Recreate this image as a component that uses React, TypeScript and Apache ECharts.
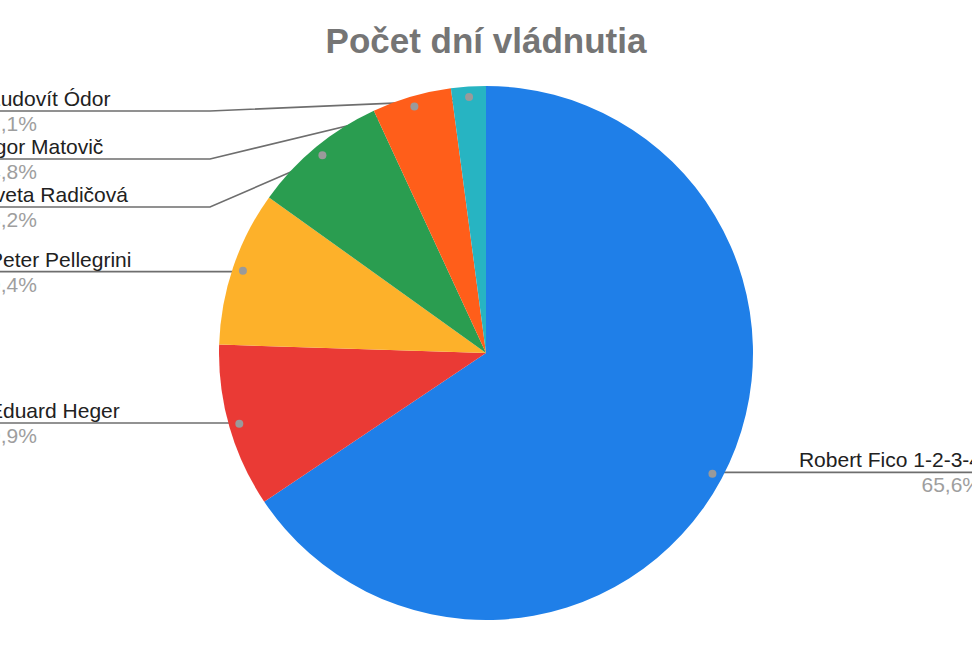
import React, { useEffect, useRef } from 'react';
import * as echarts from 'echarts';

const TITLE = 'Počet dní vládnutia';
const names = [
  'Robert Fico 1-2-3-4',
  'Eduard Heger',
  'Peter Pellegrini',
  'Iveta Radičová',
  'Igor Matovič',
  'Ľudovít Ódor',
];
const shares = [65.6, 9.9, 9.4, 8.2, 4.8, 2.1];
const colors = ['#1f7fe8', '#ea3a35', '#fdb12a', '#2a9d50', '#ff5e1a', '#27b4c2'];

const FONT = 'Arial, "Liberation Sans", sans-serif';
const OFFSET_X = -66;
const W = 1102;
const H = 648;
const CX = 552;
const CY = 353;
const R = 267;
const VIEW_TOP = 87;
const DOT_RATIO = 0.95;
const SNAP = 14;

export default function App() {
  const ref = useRef<HTMLDivElement>(null);
  useEffect(() => {
    const chart = echarts.init(ref.current as HTMLDivElement, null, { renderer: 'svg' });
    const data = names.map((name, i) => ({ name, value: shares[i] }));
    const common = {
      type: 'pie',
      left: 0,
      top: VIEW_TOP,
      right: 0,
      bottom: 0,
      center: [CX, CY - VIEW_TOP],
      startAngle: 90,
      clockwise: true,
      silent: true,
      emphasis: { disabled: true },
      data,
    };
    chart.setOption({
      animation: false,
      color: colors,
      textStyle: { fontFamily: FONT },
      title: {
        text: TITLE,
        left: CX,
        textAlign: 'center',
        top: 23,
        padding: 0,
        textStyle: { fontFamily: FONT, fontSize: 35, fontWeight: 'bold', color: '#757575' },
      },
      series: [
        {
          ...common,
          radius: R,
          avoidLabelOverlap: true,
          label: {
            show: true,
            alignTo: 'edge',
            edgeDistance: 55,
            overflow: 'none',
            padding: [1, 0, 1, 0],
            formatter: (p: any) =>
              `{n|${p.name}}\n{p|${Number(p.percent).toFixed(1).replace('.', ',')}%}`,
            rich: {
              n: { fontFamily: FONT, fontSize: 21, color: '#212121', lineHeight: 25 },
              p: { fontFamily: FONT, fontSize: 21, color: '#9e9e9e', lineHeight: 25 },
            },
          },
          labelLine: {
            show: true,
            length: -14,
            length2: 0,
            lineStyle: { color: '#6e6e6e', width: 1.6 },
          },
          labelLayout: (p: any) => {
            const pts = p.labelLinePoints;
            if (!pts || pts.length < 3) return {};
            const x0 = pts[0][0];
            const y0 = pts[0][1];
            const dot = [CX + (x0 - CX) * DOT_RATIO, CY + (y0 - CY) * DOT_RATIO];
            let ly = pts[2][1];
            const out: any = {};
            const pinnedTop = Math.abs(p.labelRect.y - VIEW_TOP) < 3;
            if (!pinnedTop && Math.abs(ly - dot[1]) < SNAP) {
              ly = dot[1];
              out.y = ly;
            }
            const isLeft = x0 < CX;
            const elbowX = isLeft ? Math.min(dot[0], CX - R - 9) : Math.max(dot[0], CX + R + 9);
            const endX = isLeft ? p.labelRect.x : p.labelRect.x + p.labelRect.width;
            out.labelLinePoints = [dot, [elbowX, ly], [endX, ly]];
            return out;
          },
        },
        {
          ...common,
          radius: [R * 0.93, R * 0.97],
          itemStyle: { color: 'rgba(0,0,0,0)', borderWidth: 0 },
          label: {
            show: true,
            position: 'inside',
            formatter: '{d| }',
            padding: 0,
            rich: {
              d: { width: 8, height: 8, borderRadius: 4, backgroundColor: '#9a9a9a', fontSize: 1, lineHeight: 8 },
            },
          },
          labelLine: { show: false },
        },
      ],
    });
    return () => chart.dispose();
  }, []);
  return (
    <div
      ref={ref}
      style={{ position: 'absolute', left: OFFSET_X, top: 0, width: W, height: H }}
    />
  );
}
